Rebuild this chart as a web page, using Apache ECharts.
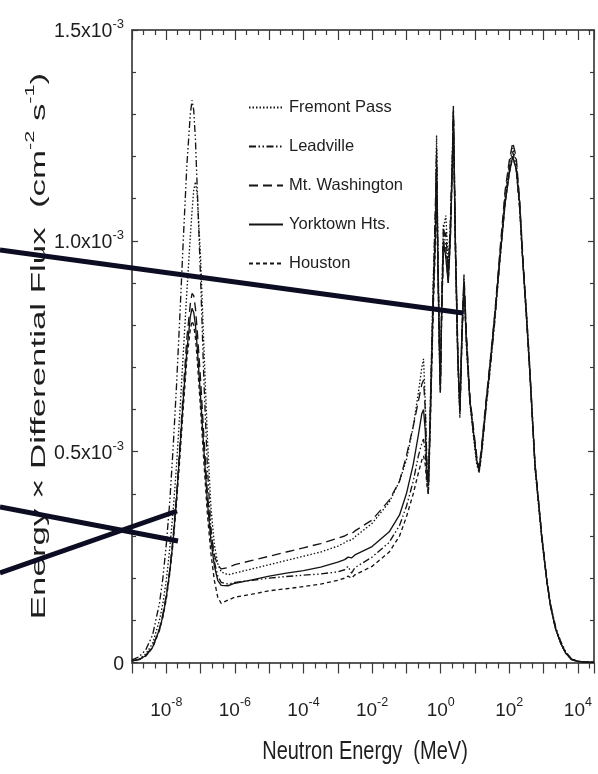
<!DOCTYPE html>
<html>
<head>
<meta charset="utf-8">
<script src="https://cdn.jsdelivr.net/npm/echarts@6/dist/echarts.min.js"></script>
<style>
  html, body { margin: 0; padding: 0; background: #ffffff; }
  #chart { width: 598px; height: 774px; }
</style>
</head>
<body>
<div id="chart"></div>
<script>
// Neutron energy grid, stored as log10(E / MeV)
const logEnergy = [-9,-8.8,-8.6,-8.4,-8.2,-8.1,-8.0,-7.9,-7.8,-7.7,-7.6,-7.5,-7.4,-7.3,-7.25,-7.2,-7.15,-7.1,-7.0,-6.9,-6.8,-6.7,-6.6,-6.5,-6.4,
  -6.2,-6.0,-5.5,-5.0,-4.5,-4.0,-3.5,-3.0,-2.8,-2.7,-2.6,-2.5,-2.0,-1.5,-1.2,-1.0,-0.8,-0.65,-0.55,-0.5,-0.45,-0.4,-0.36,
  -0.3,-0.22,-0.15,-0.12,-0.08,-0.03,-0.01,0.03,0.08,0.15,0.22,0.28,0.34,0.37,0.43,0.5,0.56,0.62,0.68,0.75,0.85,0.95,1.05,1.12,
  1.2,1.32,1.45,1.58,1.72,1.88,2.0,2.1,2.2,2.3,2.39,2.5,2.59,2.75,2.95,3.1,3.2,3.35,3.5,3.65,3.81,4.0,4.2,4.47];

// Energy x differential flux, in units of 1e-3 cm^-2 s^-1
const fremontPass = [0.004,0.008,0.02,0.045,0.10,0.14,0.195,0.27,0.36,0.47,0.60,0.74,0.88,1.01,1.07,1.12,1.14,1.11,0.96,0.74,0.53,0.37,0.28,0.235,0.215,
  0.208,0.212,0.222,0.232,0.242,0.252,0.262,0.276,0.284,0.29,0.29,0.298,0.33,0.38,0.43,0.48,0.56,0.64,0.70,0.72,0.62,0.46,0.41,
  0.62,0.90,1.08,1.25,0.97,0.72,0.66,0.85,1.03,1.06,0.95,1.03,1.20,1.31,0.99,0.72,0.58,0.78,0.90,0.75,0.62,0.54,0.47,0.45,
  0.50,0.61,0.72,0.83,0.96,1.11,1.18,1.22,1.19,1.09,0.96,0.82,0.70,0.46,0.29,0.19,0.135,0.08,0.045,0.021,0.007,0.002,0.001,0.0004];

const leadville = [0.006,0.013,0.03,0.065,0.14,0.20,0.28,0.38,0.51,0.66,0.83,1.01,1.18,1.30,1.333,1.31,1.24,1.13,0.91,0.66,0.46,0.32,0.24,0.205,0.19,
  0.186,0.19,0.195,0.20,0.204,0.207,0.21,0.215,0.22,0.228,0.212,0.225,0.25,0.285,0.325,0.37,0.43,0.49,0.52,0.53,0.50,0.43,0.40,
  0.58,0.84,1.05,1.22,0.95,0.70,0.64,0.86,1.04,0.98,0.92,1.02,1.20,1.32,1.00,0.74,0.59,0.77,0.91,0.77,0.63,0.55,0.48,0.45,
  0.50,0.60,0.70,0.81,0.95,1.10,1.17,1.21,1.18,1.08,0.96,0.83,0.71,0.47,0.30,0.195,0.14,0.085,0.05,0.025,0.009,0.003,0.001,0.0005];

const mtWashington = [0.004,0.007,0.016,0.037,0.08,0.115,0.16,0.22,0.30,0.40,0.52,0.65,0.77,0.85,0.875,0.87,0.84,0.79,0.67,0.53,0.40,0.31,0.255,0.23,0.222,
  0.225,0.232,0.242,0.252,0.262,0.272,0.282,0.295,0.30,0.305,0.305,0.312,0.338,0.385,0.43,0.49,0.56,0.62,0.66,0.67,0.60,0.47,0.42,
  0.61,0.88,1.10,1.21,0.96,0.73,0.66,0.83,0.99,1.02,0.93,1.04,1.19,1.31,1.00,0.73,0.60,0.79,0.92,0.78,0.63,0.56,0.49,0.46,
  0.52,0.62,0.72,0.83,0.97,1.12,1.19,1.233,1.20,1.10,0.97,0.83,0.71,0.47,0.30,0.19,0.135,0.08,0.046,0.021,0.007,0.002,0.001,0.0004];

const yorktownHts = [0.004,0.007,0.016,0.036,0.078,0.11,0.155,0.215,0.29,0.39,0.51,0.63,0.74,0.82,0.84,0.83,0.80,0.75,0.63,0.50,0.38,0.29,0.23,0.195,0.183,
  0.182,0.188,0.196,0.205,0.212,0.218,0.226,0.238,0.244,0.25,0.248,0.255,0.275,0.31,0.35,0.40,0.47,0.54,0.59,0.60,0.55,0.45,0.42,
  0.60,0.86,1.02,1.18,0.93,0.72,0.65,0.84,1.00,0.96,0.90,1.00,1.18,1.30,0.98,0.72,0.60,0.78,0.90,0.76,0.62,0.55,0.48,0.455,
  0.51,0.61,0.71,0.82,0.95,1.09,1.16,1.20,1.17,1.09,0.955,0.82,0.70,0.47,0.295,0.19,0.135,0.08,0.046,0.022,0.008,0.003,0.001,0.0005];

const houston = [0.004,0.007,0.015,0.035,0.076,0.108,0.15,0.21,0.285,0.38,0.49,0.61,0.72,0.79,0.81,0.80,0.77,0.72,0.60,0.47,0.35,0.26,0.195,0.155,0.14,
  0.148,0.155,0.162,0.17,0.175,0.18,0.186,0.195,0.20,0.205,0.20,0.208,0.228,0.262,0.30,0.345,0.40,0.45,0.48,0.49,0.47,0.42,0.40,
  0.57,0.83,1.00,1.16,0.92,0.71,0.64,0.83,0.98,0.97,0.90,1.00,1.17,1.29,0.97,0.71,0.59,0.77,0.89,0.76,0.62,0.55,0.48,0.455,
  0.51,0.61,0.71,0.82,0.95,1.09,1.16,1.20,1.17,1.08,0.955,0.82,0.70,0.465,0.295,0.19,0.135,0.08,0.046,0.022,0.008,0.003,0.001,0.0005];

const seriesNames = ['Fremont Pass', 'Leadville', 'Mt. Washington', 'Yorktown Hts.', 'Houston'];
const seriesValues = [fremontPass, leadville, mtWashington, yorktownHts, houston];
const seriesDash = [[1.5, 2], [7, 2.5, 1.5, 2.5, 1.5, 2.5], [9, 5], 'solid', [4, 3]];

const xAxisTitle = 'Neutron Energy  (MeV)';

const FONT = '"Liberation Sans", Arial, sans-serif';
const TXT = '#1e1e1e';

const chart = echarts.init(document.getElementById('chart'), null, { renderer: 'canvas' });

const series = seriesNames.map((name, k) => ({
  name: name,
  type: 'line',
  xAxisIndex: 0,
  yAxisIndex: 0,
  showSymbol: false,
  symbol: 'none',
  smooth: false,
  animation: false,
  data: logEnergy.map((e, i) => [e, seriesValues[k][i]]),
  lineStyle: { color: '#151515', width: 1.35, type: seriesDash[k] },
  itemStyle: { color: '#151515' },
  z: 3
}));

const xCommon = {
  type: 'value', min: -9, max: 4.47, interval: 1,
  splitLine: { show: false }, minorSplitLine: { show: false }
};
const yCommon = {
  type: 'value', min: 0, max: 1.5, interval: 0.5,
  splitLine: { show: false }, minorSplitLine: { show: false }
};
const axisLineStyle = { color: '#5a5a5a', width: 2 };
const tickStyle = { color: '#3a3a3a', width: 1.2 };

const option = {
  backgroundColor: '#ffffff',
  animation: false,
  grid: { left: 132, right: 4, top: 30, bottom: 111.5, containLabel: false, outerBoundsMode: 'none' },
  legend: {
    orient: 'vertical', left: 243, top: 94,
    itemWidth: 34, itemHeight: 16, itemGap: 22,
    data: seriesNames,
    itemStyle: { opacity: 0, borderWidth: 0 },
    textStyle: { fontFamily: FONT, fontSize: 16.5, color: TXT, padding: [0, 0, 0, 1] },
    inactiveColor: '#151515'
  },
  xAxis: [
    Object.assign({}, xCommon, {
      position: 'bottom',
      axisLine: { show: true, onZero: false, lineStyle: axisLineStyle },
      axisTick: { show: true, inside: false, length: 11, lineStyle: tickStyle },
      minorTick: { show: true, splitNumber: 3, length: 6, lineStyle: tickStyle },
      axisLabel: {
        show: true, margin: 34,
        formatter: function (v) {
          if (Math.abs(v - Math.round(v)) > 1e-9) return '';
          const n = Math.round(v);
          if (n % 2 !== 0) return '';
          return '{b|10}{s|' + n + '}';
        },
        rich: {
          b: { fontFamily: FONT, fontSize: 19, color: TXT, lineHeight: 24, verticalAlign: 'bottom' },
          s: { fontFamily: FONT, fontSize: 12.5, color: TXT, lineHeight: 13, verticalAlign: 'top' }
        }
      }
    }),
    Object.assign({}, xCommon, {
      position: 'top',
      axisLine: { show: true, onZero: false, lineStyle: axisLineStyle },
      axisTick: { show: true, inside: true, length: 10, lineStyle: tickStyle },
      minorTick: { show: true, splitNumber: 3, length: 5, lineStyle: tickStyle },
      axisLabel: { show: false }
    })
  ],
  yAxis: [
    Object.assign({}, yCommon, {
      position: 'left',
      axisLine: { show: true, onZero: false, lineStyle: axisLineStyle },
      axisTick: { show: true, inside: true, length: 6, lineStyle: tickStyle },
      minorTick: { show: true, splitNumber: 5, length: 4, lineStyle: tickStyle },
      axisLabel: {
        show: true, margin: 8,
        formatter: function (v) {
          if (v === 0) return '{b|0}';
          return '{b|' + v.toFixed(1) + 'x10}{s|-3}';
        },
        rich: {
          b: { fontFamily: FONT, fontSize: 19.5, color: TXT, lineHeight: 24, verticalAlign: 'bottom' },
          s: { fontFamily: FONT, fontSize: 13, color: TXT, lineHeight: 14, verticalAlign: 'top' }
        }
      }
    }),
    Object.assign({}, yCommon, {
      position: 'right',
      axisLine: { show: true, onZero: false, lineStyle: axisLineStyle },
      axisTick: { show: true, inside: true, length: 6, lineStyle: tickStyle },
      minorTick: { show: true, splitNumber: 5, length: 4, lineStyle: tickStyle },
      axisLabel: { show: false }
    })
  ],
  series: series,
  graphic: [
    {
      type: 'text', x: 37, y: 346, rotation: Math.PI / 2, scaleX: 1.66, z: 10,
      style: {
        text: '{t|Energy × Differential Flux  (cm}{s|-2}{t| s}{s|-1}{t|)}',
        align: 'center', verticalAlign: 'middle',
        rich: {
          t: { fontFamily: FONT, fontSize: 21, fill: TXT, lineHeight: 26, verticalAlign: 'bottom' },
          s: { fontFamily: FONT, fontSize: 13, fill: TXT, lineHeight: 15, verticalAlign: 'top' }
        }
      }
    },
    {
      type: 'text', x: 365, y: 752, scaleY: 1.3, z: 10,
      style: {
        text: xAxisTitle, fontFamily: FONT, fontSize: 20, fill: TXT,
        align: 'center', verticalAlign: 'middle'
      }
    },
    { type: 'line', z: 20, shape: { x1: 0, y1: 250, x2: 463, y2: 313 },
      style: { stroke: '#0c0c22', lineWidth: 5 } },
    { type: 'line', z: 20, shape: { x1: 0, y1: 507, x2: 178, y2: 541 },
      style: { stroke: '#0c0c22', lineWidth: 5 } },
    { type: 'line', z: 20, shape: { x1: 0, y1: 573, x2: 177, y2: 511 },
      style: { stroke: '#0c0c22', lineWidth: 5 } }
  ]
};
chart.setOption(option);
</script>
</body>
</html>
